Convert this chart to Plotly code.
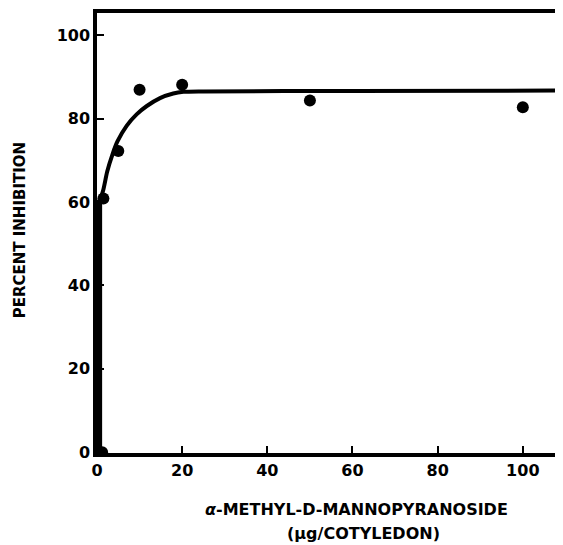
import plotly.graph_objects as go

# Measured points
dose_pts = [1.2, 1.5, 5, 10, 20, 50, 100]
inhib_pts = [0, 60.8, 72.2, 86.9, 88.1, 84.3, 82.7]

# Fitted curve
rise_x = [0.5, 0.5]
rise_y = [0, 60.5]
curve_x = [0.6, 1.5, 2.4, 3.6, 4.8, 7.0, 9.3, 11.7, 14.8, 17.9, 20.3, 25, 60, 108.5]
curve_y = [60, 63.0, 67.3, 71.3, 74.5, 78.3, 81.0, 83.0, 84.9, 86.0, 86.4, 86.5, 86.6, 86.7]

x_ticks = [0, 20, 40, 60, 80, 100]
y_ticks = [0, 20, 40, 60, 80, 100]

FONT = "DejaVu Sans"

fig = go.Figure()
fig.add_trace(go.Scatter(x=rise_x, y=rise_y, mode="lines",
                         line=dict(color="black", width=6), hoverinfo="skip"))
fig.add_trace(go.Scatter(x=curve_x, y=curve_y, mode="lines",
                         line=dict(color="black", width=4, shape="spline", smoothing=0.7),
                         hoverinfo="skip"))
fig.add_trace(go.Scatter(x=dose_pts, y=inhib_pts, mode="markers",
                         marker=dict(color="black", size=12)))

fig.update_layout(
    width=555, height=537,
    margin=dict(l=89, r=1, t=2, b=92),
    paper_bgcolor="white", plot_bgcolor="white",
    showlegend=False,
    font=dict(family=FONT, color="black"),
)
fig.update_xaxes(
    range=[0, 109.2], tickvals=x_ticks, ticktext=[str(v) for v in x_ticks],
    showgrid=False, zeroline=False,
    showline=True, linecolor="black", linewidth=3.5, mirror=True,
    ticks="inside", ticklen=7, tickwidth=2, tickcolor="black",
    tickfont=dict(family=FONT, size=16, color="black", weight="bold"),
    ticklabelstandoff=0,
)
fig.update_yaxes(
    range=[-0.2, 105.3], tickvals=y_ticks, ticktext=[str(v) for v in y_ticks],
    showgrid=False, zeroline=False,
    showline=True, linecolor="black", linewidth=3.5,
    ticks="inside", ticklen=7, tickwidth=2, tickcolor="black",
    tickfont=dict(family=FONT, size=16, color="black", weight="bold"),
    ticklabelstandoff=0,
)
# thin right border
fig.add_shape(type="line", xref="paper", yref="paper", x0=1, x1=1, y0=0, y1=1,
              line=dict(color="#999999", width=1))

fig.add_annotation(text="PERCENT INHIBITION", xref="paper", yref="paper",
                   x=-0.1656, y=0.506, textangle=-90, showarrow=False,
                   xanchor="center", yanchor="middle",
                   font=dict(family=FONT, size=15, color="black", weight="bold"))
fig.add_annotation(text="<i>α</i>-METHYL-D-MANNOPYRANOSIDE", xref="paper", yref="paper",
                   x=0.557, y=-0.129, showarrow=False, xanchor="center", yanchor="middle",
                   font=dict(family=FONT, size=16, color="black", weight="bold"))
fig.add_annotation(text="(μg/COTYLEDON)", xref="paper", yref="paper",
                   x=0.574, y=-0.183, showarrow=False, xanchor="center", yanchor="middle",
                   font=dict(family=FONT, size=16, color="black", weight="bold"))

fig.write_html("out.html")
